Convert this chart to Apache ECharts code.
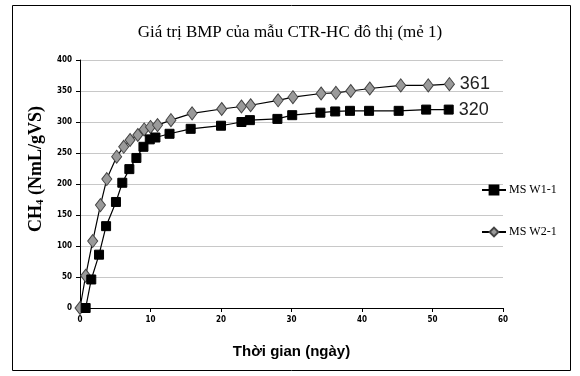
<!DOCTYPE html>
<html>
<head>
<meta charset="utf-8">
<script src="https://cdn.jsdelivr.net/npm/echarts@6/dist/echarts.min.js"></script>
<style>
  html, body { margin: 0; padding: 0; background: #fff; }
  #chart { width: 580px; height: 376px; }
</style>
</head>
<body>
<div id="chart"></div>
<script>
// MSW1-1 (squares)
const daysW1 = [0.8, 1.6, 2.7, 3.7, 5.1, 6.0, 7.0, 8.0, 9.0, 9.9, 10.7, 12.7, 15.7, 20.0, 22.9, 24.1, 28.0, 30.1, 34.1, 36.2, 38.3, 41.0, 45.2, 49.1, 52.3];
const valuesW1 = [0, 46, 86, 132, 171, 202, 224, 242, 260, 272, 275, 281, 289, 294, 300, 303, 305, 311, 315, 317, 318, 318, 318, 320, 320];
// MSW2-1 (diamonds)
const daysW2 = [0, 0.8, 1.8, 2.9, 3.8, 5.2, 6.2, 7.1, 8.2, 9.1, 10.0, 11.0, 12.9, 15.9, 20.1, 22.9, 24.2, 28.1, 30.2, 34.2, 36.3, 38.4, 41.1, 45.5, 49.4, 52.4];
const valuesW2 = [0, 52, 108, 166, 208, 244, 260, 271, 279, 288, 292, 295, 303, 314, 321, 325, 327, 335, 340, 346, 347, 350, 354, 359, 359, 361];
const seriesNames = ["MS W1-1", "MS W2-1"];

const chart = echarts.init(document.getElementById("chart"));

function buildData(days, values) {
  return days.map((d, i) => {
    const item = { value: [d, values[i]] };
    if (i === days.length - 1) {
      item.label = { show: true };
    }
    return item;
  });
}

const lastLabel = {
  show: false,
  position: "right",
  distance: 5,
  formatter: (p) => String(p.value[1]),
  fontFamily: "Liberation Sans Narrow, Liberation Sans",
  fontSize: 18,
  color: "#222",
};

const option = {
  animation: false,
  backgroundColor: "#fff",
  graphic: [
    {
      type: "rect",
      shape: { x: 12.5, y: 5.5, width: 558, height: 365 },
      style: { fill: "none", stroke: "#000", lineWidth: 1 },
      silent: true,
    },
  ],
  title: {
    text: "Giá trị BMP của mẫu CTR-HC đô thị (mẻ 1)",
    left: "center",
    top: 19,
    textStyle: {
      fontFamily: "Liberation Serif",
      fontSize: 17,
      fontWeight: "normal",
      color: "#000",
    },
  },
  legend: {
    orient: "vertical",
    left: 476,
    top: 179,
    itemGap: 30,
    itemWidth: 24,
    itemHeight: 11,
    data: seriesNames,
    textStyle: {
      fontFamily: "Liberation Serif",
      fontSize: 12,
      color: "#000",
      padding: [0, 0, 0, -2],
    },
  },
  grid: {
    left: 80,
    right: 77,
    top: 60,
    bottom: 68,
  },
  xAxis: {
    type: "value",
    min: 0,
    max: 60,
    interval: 10,
    name: "Thời gian (ngày)",
    nameLocation: "middle",
    nameGap: 36,
    nameTextStyle: {
      fontFamily: "Liberation Sans",
      fontSize: 15,
      fontWeight: "bold",
      color: "#000",
    },
    axisLine: { lineStyle: { color: "#000", width: 1 } },
    axisTick: { show: true, length: 4, lineStyle: { color: "#000" } },
    axisLabel: {
      fontFamily: "DejaVu Sans Condensed",
      fontSize: 8,
      fontWeight: "bold",
      color: "#000",
      margin: 8,
    },
    splitLine: { show: false },
  },
  yAxis: {
    type: "value",
    min: 0,
    max: 400,
    interval: 50,
    name: "{main|CH}{sub|4}{main| (NmL/gVS)}",
    nameLocation: "middle",
    nameGap: 34,
    nameRotate: 90,
    nameTextStyle: {
      padding: [0, 0, 0, 30],
      rich: {
        main: {
          fontFamily: "Liberation Serif",
          fontSize: 18,
          fontWeight: "bold",
          color: "#000",
        },
        sub: {
          fontFamily: "Liberation Serif",
          fontSize: 11,
          fontWeight: "bold",
          color: "#000",
          padding: [8, 0, 0, 0],
        },
      },
    },
    axisLine: { show: true, lineStyle: { color: "#000", width: 1 } },
    axisTick: { show: true, length: 4, lineStyle: { color: "#000" } },
    axisLabel: {
      fontFamily: "DejaVu Sans Condensed",
      fontSize: 8,
      fontWeight: "bold",
      color: "#000",
      margin: 8,
    },
    splitLine: { show: true, lineStyle: { color: "#c8c8c8", width: 1 } },
  },
  series: [
    {
      name: seriesNames[0],
      type: "line",
      data: buildData(daysW1, valuesW1),
      symbol: "rect",
      symbolSize: 9,
      itemStyle: { color: "#000", borderColor: "#000", borderWidth: 1 },
      lineStyle: { color: "#000", width: 1.2 },
      label: lastLabel,
      z: 3,
    },
    {
      name: seriesNames[1],
      type: "line",
      data: buildData(daysW2, valuesW2),
      symbol: "diamond",
      symbolSize: [10, 13],
      itemStyle: { color: "#9a9a9a", borderColor: "#444", borderWidth: 1 },
      lineStyle: { color: "#000", width: 1.2 },
      label: lastLabel,
      z: 2,
    },
  ],
};

chart.setOption(option);
</script>
</body>
</html>
